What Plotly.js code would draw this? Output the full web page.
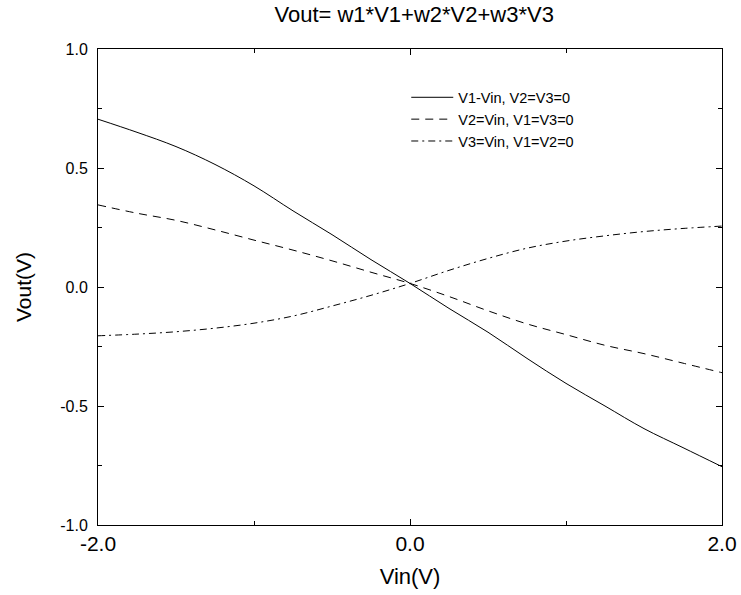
<!DOCTYPE html>
<html>
<head>
<meta charset="utf-8">
<script src="https://cdn.plot.ly/plotly-3.0.1.min.js"></script>
<style>html,body{margin:0;padding:0;background:#fff;}#chart{width:741px;height:595px;}</style>
</head>
<body>
<div id="chart"></div>
<script>
var vin = [-2.0, -1.75, -1.5, -1.25, -1.0, -0.75, -0.5, -0.25, 0.0, 0.25, 0.5, 0.75, 1.0, 1.25, 1.5, 1.75, 2.0];
var vout1 = [0.705, 0.65, 0.59, 0.515, 0.425, 0.32, 0.22, 0.115, 0.015, -0.09, -0.19, -0.30, -0.405, -0.50, -0.595, -0.675, -0.755];
var vout2 = [0.345, 0.31, 0.28, 0.24, 0.197, 0.155, 0.11, 0.062, 0.015, -0.04, -0.10, -0.155, -0.20, -0.245, -0.28, -0.32, -0.36];
var vout3 = [-0.205, -0.198, -0.188, -0.173, -0.152, -0.122, -0.08, -0.035, 0.015, 0.07, 0.12, 0.163, 0.193, 0.215, 0.233, 0.246, 0.256];
var names = ['V1-Vin, V2=V3=0', 'V2=Vin, V1=V3=0', 'V3=Vin, V1=V2=0'];
var xTicks = [-2.0, 0.0, 2.0];
var yTicks = [-1.0, -0.5, 0.0, 0.5, 1.0];

var font = 'Liberation Sans, Arial, sans-serif';
var traces = [
  {x: vin, y: vout1, name: names[0], mode: 'lines', line: {color: '#000', width: 1, dash: 'solid', shape: 'spline'}},
  {x: vin, y: vout2, name: names[1], mode: 'lines', line: {color: '#000', width: 1, dash: '8px,6px', shape: 'spline'}},
  {x: vin, y: vout3, name: names[2], mode: 'lines', line: {color: '#000', width: 1, dash: '7px,4px,2px,4px', shape: 'spline'}}
];
var layout = {
  width: 741, height: 595,
  margin: {l: 98, r: 19, t: 49, b: 70},
  paper_bgcolor: '#fff', plot_bgcolor: '#fff',
  font: {family: font, color: '#000'},
  title: {text: 'Vout= w1*V1+w2*V2+w3*V3', font: {size: 22, family: font}, x: 0.559, xanchor: 'center', y: 0.976, yanchor: 'middle'},
  showlegend: true,
  legend: {x: 0.494, y: 0.932, xanchor: 'left', yanchor: 'top', bgcolor: 'rgba(0,0,0,0)', font: {size: 14.5, family: font}, itemwidth: 42, tracegroupgap: 0},
  xaxis: {
    range: [-2, 2], tickvals: xTicks, ticktext: xTicks.map(function(v){return v.toFixed(1);}),
    ticks: 'inside', ticklen: 6, tickcolor: '#000', showgrid: false, zeroline: false,
    showline: true, linecolor: '#000', linewidth: 1, mirror: 'ticks',
    tickfont: {size: 21, family: font},
    minor: {dtick: 1, tick0: 0, ticks: 'inside', ticklen: 4, tickcolor: '#000', showgrid: false},
    title: {text: 'Vin(V)', font: {size: 22, family: font}, standoff: 14}
  },
  yaxis: {
    range: [-1, 1], tickvals: yTicks, ticktext: yTicks.map(function(v){return v.toFixed(1);}),
    ticks: 'inside', ticklen: 6, tickcolor: '#000', showgrid: false, zeroline: false,
    showline: true, linecolor: '#000', linewidth: 1, mirror: 'ticks',
    tickfont: {size: 16, family: font}, ticklabelstandoff: 6,
    minor: {dtick: 0.25, tick0: 0, ticks: 'inside', ticklen: 4, tickcolor: '#000', showgrid: false},
    title: {text: 'Vout(V)', font: {size: 21, family: font}, standoff: 22}
  }
};
Plotly.newPlot('chart', traces, layout, {displayModeBar: false, staticPlot: true});
</script>
</body>
</html>
